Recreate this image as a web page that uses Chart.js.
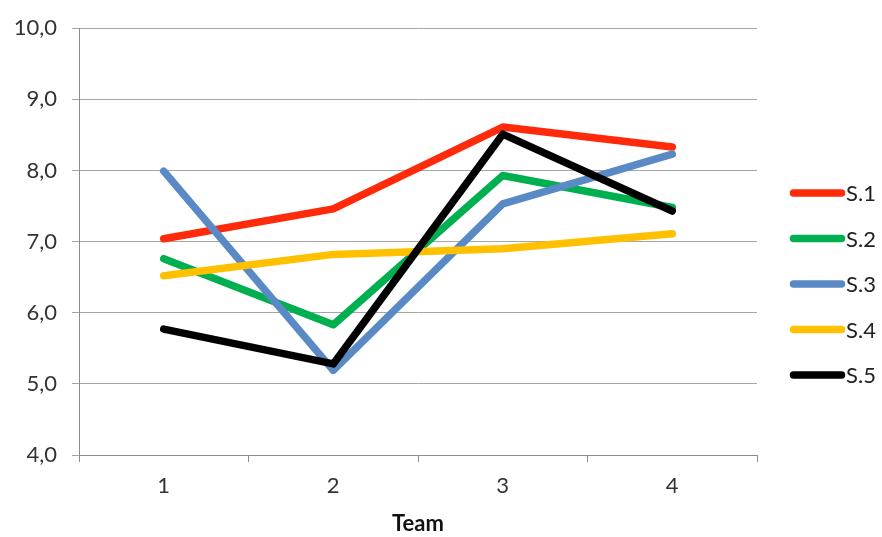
<!DOCTYPE html>
<html>
<head>
<meta charset="utf-8">
<script src="https://cdn.jsdelivr.net/npm/chart.js@4/dist/chart.umd.min.js"></script>
<style>
  html, body { margin: 0; padding: 0; background: #ffffff; }
  canvas { display: block; }
</style>
</head>
<body>
<canvas id="c" width="882" height="537"></canvas>
<script>
const categories = ['1', '2', '3', '4'];
const seriesNames = ['S.1', 'S.2', 'S.3', 'S.4', 'S.5'];
const s1 = [7.04, 7.46, 8.61, 8.33];
const s2 = [6.76, 5.83, 7.93, 7.48];
const s3 = [7.99, 5.19, 7.53, 8.23];
const s4 = [6.52, 6.82, 6.90, 7.11];
const s5 = [5.77, 5.28, 8.51, 7.43];
const seriesValues = [s1, s2, s3, s4, s5];
const seriesColors = ['#FF2A0A', '#00B050', '#5A8AC6', '#FFC000', '#000000'];
const yMin = 4, yMax = 10, yStep = 1;
const xTitle = 'Team';

const FONT = 'Lato, "Liberation Sans", sans-serif';

const legendPlugin = {
  id: 'sideLegend',
  afterDraw(chart) {
    const ctx = chart.ctx;
    ctx.save();
    chart.data.datasets.forEach((ds, i) => {
      const y = 193 + i * 45.5;
      ctx.strokeStyle = ds.borderColor;
      ctx.lineWidth = 7.5;
      ctx.lineCap = 'round';
      ctx.beginPath();
      ctx.moveTo(793.5, y);
      ctx.lineTo(841.5, y);
      ctx.stroke();
      ctx.fillStyle = '#222222';
      ctx.font = '22px ' + FONT;
      ctx.textAlign = 'left';
      ctx.textBaseline = 'middle';
      ctx.fillText(ds.label, 846, y + 1);
    });
    ctx.restore();
  }
};

const bgPlugin = {
  id: 'bg',
  beforeDraw(chart) {
    const ctx = chart.ctx;
    ctx.save();
    ctx.fillStyle = '#ffffff';
    ctx.fillRect(0, 0, chart.width, chart.height);
    ctx.restore();
  }
};

new Chart(document.getElementById('c'), {
  type: 'line',
  data: {
    labels: categories,
    datasets: seriesNames.map((name, i) => ({
      label: name,
      data: seriesValues[i],
      borderColor: seriesColors[i],
      backgroundColor: seriesColors[i],
      borderWidth: 7.5,
      borderCapStyle: 'round',
      borderJoinStyle: 'round',
      pointRadius: 0,
      tension: 0,
      fill: false,
      order: seriesNames.length - i
    }))
  },
  options: {
    responsive: false,
    devicePixelRatio: 1,
    animation: false,
    layout: { padding: { left: 0, top: 26, right: 125, bottom: 0 } },
    plugins: {
      legend: { display: false },
      tooltip: { enabled: false }
    },
    scales: {
      x: {
        type: 'category',
        offset: true,
        grid: {
          offset: true,
          drawOnChartArea: false,
          drawTicks: true,
          tickLength: 7,
          color: '#8C8C8C',
          lineWidth: 1
        },
        border: { display: true, color: '#8C8C8C', width: 1 },
        ticks: {
          color: '#333333',
          font: { family: FONT, size: 22 },
          padding: 11,
          maxRotation: 0
        },
        title: {
          display: true,
          text: xTitle,
          color: '#111111',
          font: { family: FONT, size: 22, weight: 'bold' },
          padding: { top: 0, bottom: 0 }
        },
        afterFit(scale) { scale.height = 82; }
      },
      y: {
        min: yMin,
        max: yMax,
        grid: {
          color: '#A6A6A6',
          lineWidth: 1,
          drawTicks: true,
          tickLength: 7
        },
        border: { display: true, color: '#8C8C8C', width: 1 },
        ticks: {
          stepSize: yStep,
          color: '#333333',
          font: { family: FONT, size: 22 },
          padding: 15,
          callback: (v) => Number(v).toFixed(1).replace('.', ',')
        },
        afterFit(scale) { scale.width = 79; }
      }
    }
  },
  plugins: [bgPlugin, legendPlugin]
});
</script>
</body>
</html>
